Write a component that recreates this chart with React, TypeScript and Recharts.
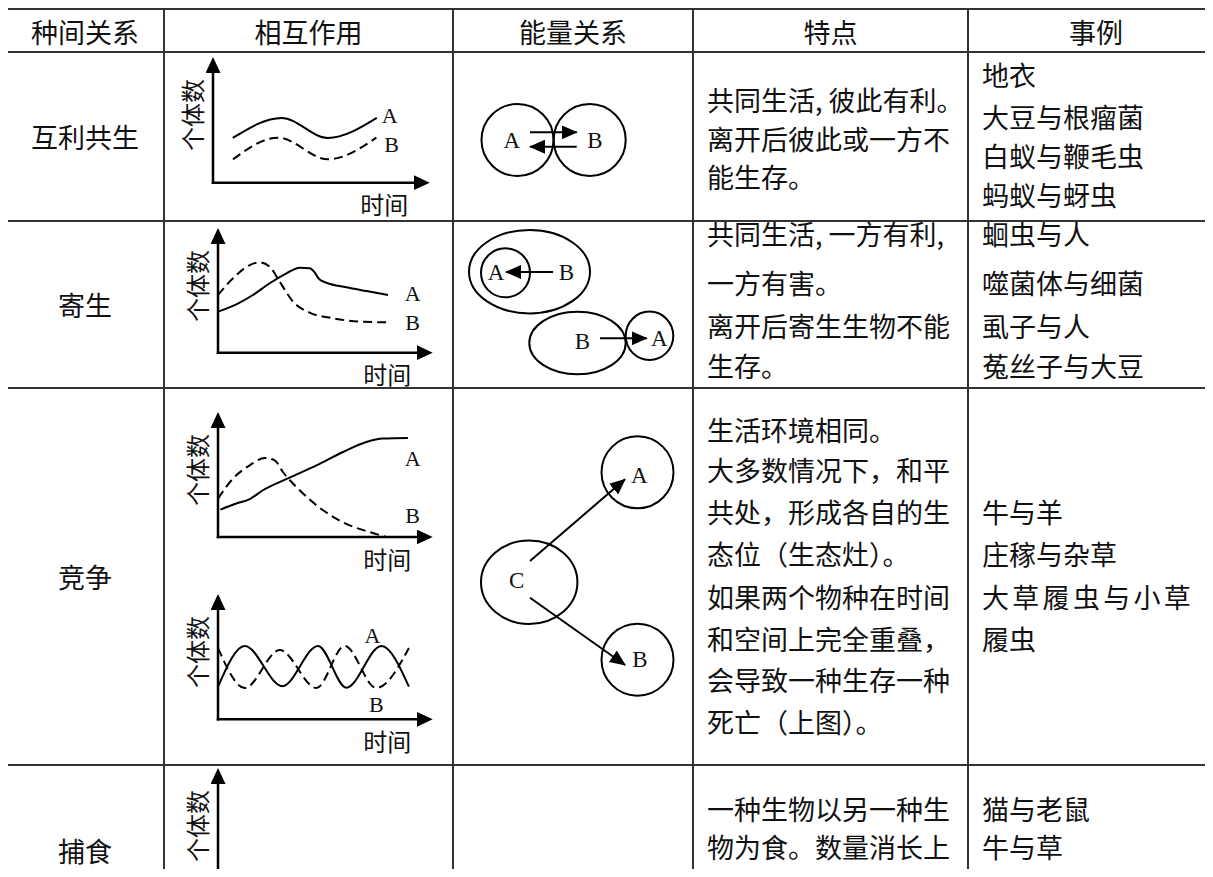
import React from 'react';
import {
  LineChart, Line, XAxis, YAxis, ReferenceDot,
  ScatterChart, Scatter, ReferenceLine,
} from 'recharts';

const CJK = '"Noto Sans CJK SC", "Noto Sans CJK JP", "Noto Sans", sans-serif';
const LATIN = '"Liberation Serif", "DejaVu Serif", serif';
const INK = '#111';
const RULE = '#333';

// ---------------- table text ----------------
const headers = ['种间关系', '相互作用', '能量关系', '特点', '事例'];
const relations = ['互利共生', '寄生', '竞争', '捕食'];
const traits = [
  ['共同生活,彼此有利。', '离开后彼此或一方不', '能生存。'],
  ['共同生活,一方有利,', '一方有害。', '离开后寄生生物不能', '生存。'],
  ['生活环境相同。', '大多数情况下，和平', '共处，形成各自的生', '态位（生态灶）。', '如果两个物种在时间', '和空间上完全重叠，', '会导致一种生存一种', '死亡（上图）。'],
  ['一种生物以另一种生', '物为食。数量消长上'],
];
const examples = [
  ['地衣', '大豆与根瘤菌', '白蚁与鞭毛虫', '蚂蚁与蚜虫'],
  ['蛔虫与人', '噬菌体与细菌', '虱子与人', '菟丝子与大豆'],
  ['牛与羊', '庄稼与杂草', '大草履虫与小草', '履虫'],
  ['猫与老鼠', '牛与草'],
];
const yAxisTitle = '个体数';
const xAxisTitle = '时间';

// ---------------- mini chart series (t = time, v = individuals, both 0..10) ----------------
const mutualA = [
  { t: 0.98, v: 4.04 }, { t: 3.41, v: 5.85 }, { t: 5.69, v: 4.04 }, { t: 8.12, v: 5.85 },
];
const mutualB = [
  { t: 0.99, v: 2.11 }, { t: 3.22, v: 4.07 }, { t: 5.70, v: 2.11 }, { t: 8.10, v: 4.07 },
];
const mutualLabels = [
  { t: 8.76, v: 6.07, text: 'A' }, { t: 8.86, v: 3.41, text: 'B' },
];

const parasiteA = [
  { t: 0, v: 3.74 }, { t: 0.92, v: 4.41 }, { t: 1.75, v: 5.26 }, { t: 2.59, v: 6.33 },
  { t: 3.43, v: 7.24 }, { t: 4.09, v: 7.75 }, { t: 4.59, v: 7.70 }, { t: 4.84, v: 7.33 },
  { t: 5.06, v: 6.72 }, { t: 5.43, v: 6.38 }, { t: 6.43, v: 5.96 }, { t: 7.43, v: 5.62 },
  { t: 8.51, v: 5.26 },
];
const parasiteB = [
  { t: 0, v: 5.26 }, { t: 0.75, v: 6.78 }, { t: 1.59, v: 7.99 }, { t: 2.09, v: 8.24 },
  { t: 2.59, v: 7.84 }, { t: 3.09, v: 6.47 }, { t: 3.76, v: 4.65 }, { t: 4.59, v: 3.65 },
  { t: 5.76, v: 3.14 }, { t: 7.09, v: 2.83 }, { t: 8.43, v: 2.77 },
];
const parasiteLabels = [
  { t: 9.75, v: 5.44, text: 'A' }, { t: 9.75, v: 2.71, text: 'B' },
];

const competeA = [
  { t: 0.12, v: 2.49 }, { t: 0.92, v: 3.04 }, { t: 1.59, v: 3.45 }, { t: 2.25, v: 4.25 },
  { t: 3.59, v: 5.40 }, { t: 4.93, v: 6.52 }, { t: 6.26, v: 7.73 }, { t: 7.43, v: 8.64 },
  { t: 8.26, v: 8.95 }, { t: 9.51, v: 9.00 },
];
const competeB = [
  { t: 0, v: 3.49 }, { t: 0.75, v: 5.31 }, { t: 1.59, v: 6.52 }, { t: 2.34, v: 7.18 },
  { t: 2.84, v: 6.97 }, { t: 3.25, v: 5.91 }, { t: 4.09, v: 4.25 }, { t: 5.26, v: 2.43 },
  { t: 6.59, v: 1.06 }, { t: 7.59, v: 0.45 }, { t: 8.43, v: 0 },
];
const competeLabels = [
  { t: 9.75, v: 7.15, text: 'A' }, { t: 9.75, v: 1.97, text: 'B' },
];

const coexistA = [
  { t: 0, v: 2.96 }, { t: 1.34, v: 6.65 }, { t: 3.22, v: 3.0 }, { t: 5.01, v: 6.65 },
  { t: 6.43, v: 2.87 }, { t: 8.18, v: 6.65 }, { t: 9.56, v: 2.96 },
];
const coexistB = [
  { t: 0, v: 6.46 }, { t: 1.34, v: 2.84 }, { t: 3.09, v: 6.28 }, { t: 4.93, v: 2.84 },
  { t: 6.34, v: 6.65 }, { t: 7.93, v: 2.84 }, { t: 9.56, v: 6.46 },
];
const coexistLabels = [
  { t: 7.73, v: 7.64, text: 'A' }, { t: 7.93, v: 1.30, text: 'B' },
];

// predation: only the time span is visible (its curves lie below the cut)
const predationSpan = [{ t: 0 }, { t: 10 }];

// ---------------- energy diagrams (diagram units) ----------------
const energyNodes = [
  { x: 64.5, y: 88, rx: 36, ry: 36 },
  { x: 136.7, y: 88, rx: 36, ry: 36 },
  { x: 76.5, y: 219.7, rx: 60.5, ry: 41.7 },
  { x: 52.5, y: 220.8, rx: 24.5, ry: 24.5 },
  { x: 124.5, y: 291, rx: 48.2, ry: 31.3 },
  { x: 196.5, y: 283.8, rx: 23.8, ry: 24.2 },
  { x: 184.5, y: 420.3, rx: 36, ry: 36 },
  { x: 184.5, y: 607.7, rx: 36, ry: 36 },
  { x: 76.2, y: 530.3, rx: 48.2, ry: 41.7 },
];
const energyLabels = [
  { x: 58.7, y: 88, text: 'A' }, { x: 142, y: 88, text: 'B' },
  { x: 43, y: 220, text: 'A' }, { x: 113.5, y: 220, text: 'B' },
  { x: 129.3, y: 289.7, text: 'B' }, { x: 206.3, y: 286.3, text: 'A' },
  { x: 186.3, y: 423, text: 'A' }, { x: 187, y: 607.3, text: 'B' }, { x: 63.7, y: 528.7, text: 'C' },
];
const energyFlows = [
  { x1: 77, y1: 80.3, x2: 123.7, y2: 80.3 },
  { x1: 123.7, y1: 94.7, x2: 77, y2: 94.7 },
  { x1: 100, y1: 220, x2: 53, y2: 220 },
  { x1: 147, y1: 286.3, x2: 193.7, y2: 286.3 },
  { x1: 77, y1: 509, x2: 172, y2: 427.3 },
  { x1: 77, y1: 545.7, x2: 172, y2: 613 },
];

// ---------------- layout (page px) ----------------
const hLines = [9.3, 52.3, 220.5, 388, 764.5];
const vLines = [5.7, 164.3, 453.2, 693, 968.3];
const headerX = [85, 308.5, 573, 830.5, 1096];
const headerY = 33;
const relationY = [138.3, 306, 578, 852];
const traitY = [
  [101.7, 140, 178.3],
  [235.5, 284, 327.5, 367.5],
  [431.7, 471.7, 513.3, 555, 598.3, 640, 681.7, 723.3],
  [810, 848.3],
];
const exampleY = [
  [76, 118.5, 157.5, 196.5],
  [235.5, 284, 327.5, 367.5],
  [513.3, 555, 598.3, 640],
  [810, 848.3],
];

type Geo = { axisX: number; top: number; right: number; axisY: number };
const geoMutual: Geo = { axisX: 213.3, top: 72, right: 415, axisY: 182.7 };
const geoParasite: Geo = { axisX: 218.3, top: 243, right: 418, axisY: 352.7 };
const geoCompete: Geo = { axisX: 218.3, top: 426.7, right: 418, axisY: 536.7 };
const geoCoexist: Geo = { axisX: 218.3, top: 609, right: 418, axisY: 719.3 };
const geoPredation: Geo = { axisX: 217.5, top: 783, right: 418, axisY: 960 };

function withCommas(s: string) {
  const parts = s.split(',');
  const out: React.ReactNode[] = [];
  parts.forEach((p, i) => {
    if (i > 0) out.push(<span key={'c' + i} style={{ display: 'inline-block', width: '0.5em' }}>,</span>);
    out.push(<React.Fragment key={'p' + i}>{p}</React.Fragment>);
  });
  return out;
}

function TextLine({ x, cy, text, align = 'left', ls = 0 }: { x: number; cy: number; text: string; align?: 'left' | 'center'; ls?: number }) {
  const H = 30;
  const style: React.CSSProperties = {
    position: 'absolute', top: cy - H / 2 - 1.5, height: H, lineHeight: H + 'px',
    fontSize: 27, fontFamily: CJK, color: INK, whiteSpace: 'nowrap', letterSpacing: ls,
  };
  if (align === 'center') { style.left = x - 150; style.width = 300; style.textAlign = 'center'; }
  else { style.left = x; }
  return <div style={style}>{withCommas(text)}</div>;
}

// title anchored at top of the y axis
const yTitleShape = (p: any) => {
  const x = p.cx - 22;
  const y = p.cy + 43;
  return (
    <text x={x} y={y} transform={`rotate(-90 ${x} ${y})`} textAnchor="middle" dominantBaseline="central"
      fontSize={24} fill={INK} style={{ fontFamily: CJK }}>{yAxisTitle}</text>
  );
};
// title anchored at right end of the x axis
const xTitleShape = (p: any) => (
  <text x={p.cx - 30.5} y={p.cy + 21.2} textAnchor="middle" dominantBaseline="central"
    fontSize={24} fill={INK} style={{ fontFamily: CJK }}>{xAxisTitle}</text>
);

const letterShape = (text: string, size: number) => (p: any) => (
  <text x={p.cx} y={p.cy} textAnchor="middle" dominantBaseline="central" fontSize={size}
    fill={INK} style={{ fontFamily: LATIN }}>{text}</text>
);

type Pt = { t: number; v: number };
function MiniChart({ geo, solid, dashed, labels, span, showX = true }: {
  geo: Geo; solid?: Pt[]; dashed?: Pt[]; labels?: { t: number; v: number; text: string }[];
  span?: { t: number }[]; showX?: boolean;
}) {
  const mL = 40, mT = 20, mR = 20, mB = 40;
  const w = Math.round(geo.right - geo.axisX + mL + mR);
  const h = Math.round(geo.axisY - geo.top + mT + mB);
  const arrowProps = { markerEnd: 'url(#axisArrow)' } as any;
  const fixed = !!span;
  return (
    <div style={{ position: 'absolute', left: geo.axisX - mL, top: geo.top - mT }}>
      <LineChart width={w} height={h} data={span} margin={{ top: mT, right: w - mL - (geo.right - geo.axisX), bottom: h - mT - (geo.axisY - geo.top), left: mL }}>
        <XAxis type="number" dataKey="t" domain={[0, 10]} allowDataOverflow={fixed} hide />
        <YAxis type="number" dataKey="v" domain={[0, 10]} allowDataOverflow={fixed} hide />
        {showX && (
          <ReferenceLine segment={[{ x: 0, y: 0 }, { x: 10, y: 0 }]} ifOverflow="visible"
            stroke="#000" strokeWidth={2.5} strokeLinecap="square" {...arrowProps} />
        )}
        <ReferenceLine segment={[{ x: 0, y: 0 }, { x: 0, y: 10 }]} ifOverflow="visible"
          stroke="#000" strokeWidth={2.5} strokeLinecap="square" {...arrowProps} />
        {span && (
          <Line dataKey="v" type="monotoneX" stroke="#000" strokeWidth={2}
            dot={false} activeDot={false} isAnimationActive={false} />
        )}
        {solid && (
          <Line data={solid} dataKey="v" type="monotoneX" stroke="#000" strokeWidth={2}
            dot={false} activeDot={false} isAnimationActive={false} />
        )}
        {dashed && (
          <Line data={dashed} dataKey="v" type="monotoneX" stroke="#000" strokeWidth={2}
            strokeDasharray="9 5" dot={false} activeDot={false} isAnimationActive={false} />
        )}
        {(labels || []).map((l, i) => (
          <ReferenceDot key={i} x={l.t} y={l.v} r={0} ifOverflow="visible" shape={letterShape(l.text, 22)} />
        ))}
        <ReferenceDot x={0} y={10} r={0} ifOverflow="visible" shape={yTitleShape} />
        {showX && <ReferenceDot x={10} y={0} r={0} ifOverflow="visible" shape={xTitleShape} />}
      </LineChart>
    </div>
  );
}

function EnergyColumn() {
  return (
    <div style={{ position: 'absolute', left: 453, top: 52 }}>
      <ScatterChart width={240} height={713} margin={{ top: 0, right: 0, bottom: 0, left: 0 }}>
        <XAxis type="number" dataKey="x" domain={[0, 240]} hide />
        <YAxis type="number" dataKey="y" domain={[0, 713]} reversed hide />
        <Scatter data={energyNodes} isAnimationActive={false}
          shape={(p: any) => (
            <ellipse cx={p.cx} cy={p.cy} rx={p.payload.rx} ry={p.payload.ry}
              fill="none" stroke="#000" strokeWidth={2} />
          )} />
        {energyFlows.map((f, i) => (
          <ReferenceLine key={i} segment={[{ x: f.x1, y: f.y1 }, { x: f.x2, y: f.y2 }]}
            stroke="#000" strokeWidth={2} {...({ markerEnd: 'url(#flowArrow)' } as any)} />
        ))}
        <Scatter data={energyLabels} isAnimationActive={false}
          shape={(p: any) => (
            <text x={p.cx} y={p.cy} textAnchor="middle" dominantBaseline="central" fontSize={23}
              fill={INK} style={{ fontFamily: LATIN }}>{p.payload.text}</text>
          )} />
      </ScatterChart>
    </div>
  );
}

export default function App() {
  return (
    <div style={{ position: 'relative', width: 1213, height: 877, margin: -8, overflow: 'hidden', background: '#fff' }}>
      <svg width={0} height={0} style={{ position: 'absolute', left: 0, top: 0 }}>
        <defs>
          <marker id="axisArrow" markerUnits="userSpaceOnUse" markerWidth={16} markerHeight={15}
            viewBox="0 0 16 15" refX={1} refY={7.5} orient="auto">
            <path d="M0,0 L16,7.5 L0,15 Z" fill="#000" />
          </marker>
          <marker id="flowArrow" markerUnits="userSpaceOnUse" markerWidth={16} markerHeight={14}
            viewBox="0 0 16 14" refX={15} refY={7} orient="auto">
            <path d="M0,0 L16,7 L0,14 Z" fill="#000" />
          </marker>
        </defs>
      </svg>

      {hLines.map((y, i) => (
        <div key={'h' + i} style={{ position: 'absolute', left: 4.7, width: 1220, top: y - 1, height: 2, background: RULE }} />
      ))}
      {vLines.map((x, i) => (
        <div key={'v' + i} style={{ position: 'absolute', top: 8.3, height: 880, left: x - 1, width: 2, background: RULE }} />
      ))}

      {headers.map((h, i) => (
        <TextLine key={'hd' + i} x={headerX[i]} cy={headerY} text={h} align="center" />
      ))}
      {relations.map((r, i) => (
        <TextLine key={'r' + i} x={85} cy={relationY[i]} text={r} align="center" />
      ))}
      {traits.map((lines, i) => lines.map((ln, j) => (
        <TextLine key={'t' + i + '-' + j} x={707} cy={traitY[i][j]} text={ln} />
      )))}
      {examples.map((lines, i) => lines.map((ln, j) => (
        <TextLine key={'e' + i + '-' + j} x={982} cy={exampleY[i][j]} text={ln}
          ls={ln === '大草履虫与小草' ? 3.3 : 0} />
      )))}

      <MiniChart geo={geoMutual} solid={mutualA} dashed={mutualB} labels={mutualLabels} />
      <MiniChart geo={geoParasite} solid={parasiteA} dashed={parasiteB} labels={parasiteLabels} />
      <MiniChart geo={geoCompete} solid={competeA} dashed={competeB} labels={competeLabels} />
      <MiniChart geo={geoCoexist} solid={coexistA} dashed={coexistB} labels={coexistLabels} />
      <MiniChart geo={geoPredation} span={predationSpan} showX={false} />

      <EnergyColumn />
    </div>
  );
}
